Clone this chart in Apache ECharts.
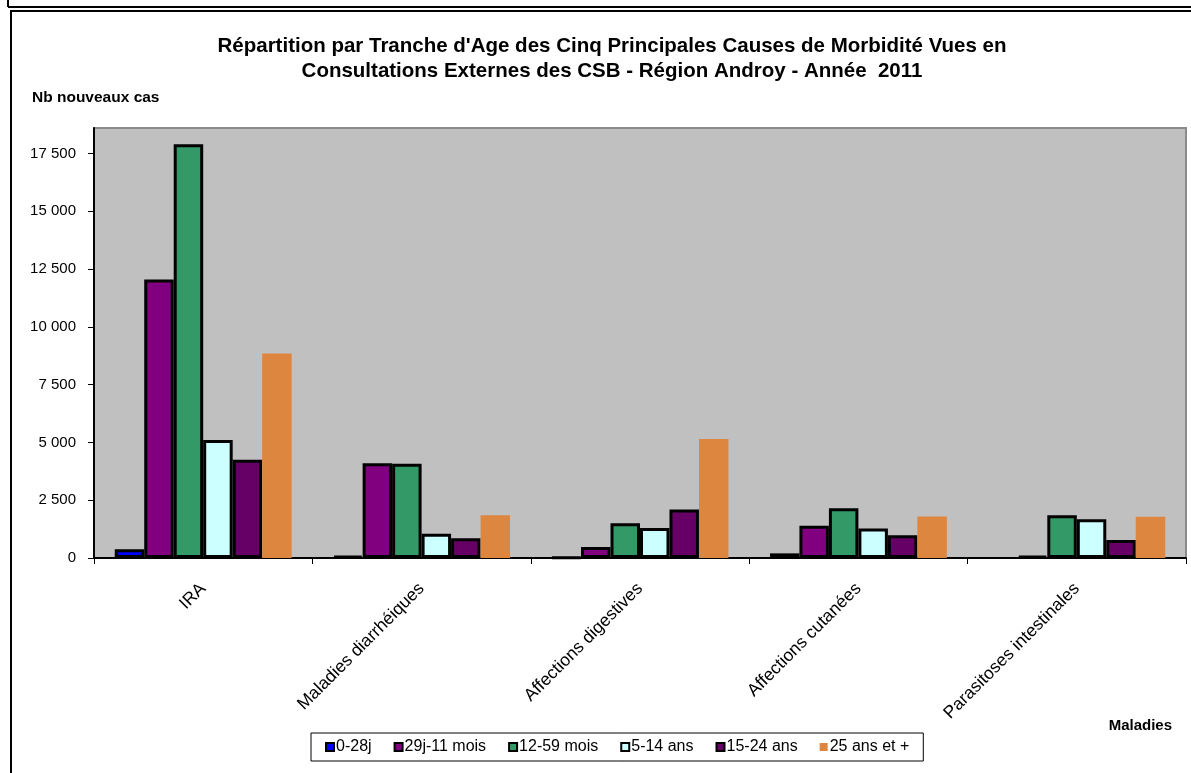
<!DOCTYPE html>
<html>
<head>
<meta charset="utf-8">
<script src="https://cdn.jsdelivr.net/npm/echarts@6/dist/echarts.min.js"></script>
<style>
 html, body { margin: 0; padding: 0; background: #fff; }
 #main { width: 1191px; height: 773px; }
</style>
</head>
<body>
<div id="main"></div>
<script>
 var maladies = ['IRA', 'Maladies diarrhéiques', 'Affections digestives', 'Affections cutanées', 'Parasitoses intestinales'];
 var tranches = ['0-28j', '29j-11 mois', '12-59 mois', '5-14 ans', '15-24 ans', '25 ans et +'];

 // nb nouveaux cas par tranche d'age (dans l'ordre des maladies)
 var cas0_28j = [380, 80, 30, 200, null];
 var cas29j_11m = [12050, 4100, 480, 1400, 80];
 var cas12_59m = [17900, 4080, 1500, 2150, 1850];
 var cas5_14 = [5100, 1050, 1300, 1280, 1680];
 var cas15_24 = [4250, 850, 2100, 980, 780];
 var cas25plus = [8850, 1850, 5150, 1800, 1780];

 var yTicks = [0, 2500, 5000, 7500, 10000, 12500, 15000, 17500];
 var couleurs = ['#0000ff', '#800080', '#339966', '#ccffff', '#660066', '#dd8640'];

 var myChart = echarts.init(document.getElementById('main'));
 var police = 'Arial, "Liberation Sans", sans-serif';

 function serie(nom, data, i) {
	 var bord = i === 5 ? 0 : 3;
	 return {
		 name: nom,
		 type: 'bar',
		 data: data,
		 barGap: '0%',
		 barCategoryGap: '19%',
		 itemStyle: { color: couleurs[i], borderColor: '#000', borderWidth: bord }
	 };
 }

 var options = {
	 textStyle: { fontFamily: police },
	 title: {
		 text: "Répartition par Tranche d'Age des Cinq Principales Causes de Morbidité Vues en\nConsultations Externes des CSB - Région Androy - Année  2011",
		 left: 607,
		 textAlign: 'center',
		 top: 29,
		 textStyle: { fontFamily: police, fontSize: 20.5, fontWeight: 'bold', color: '#000', lineHeight: 25 }
	 },
	 legend: {
		 data: tranches,
		 left: 311,
		 top: 733,
		 padding: [6, 14, 6, 14],
		 borderColor: '#000',
		 borderWidth: 1,
		 itemWidth: 8,
		 itemHeight: 8,
		 itemGap: 22,
		 icon: 'rect',
		 textStyle: { fontFamily: police, fontSize: 16, color: '#000', padding: [0, 0, 0, -3] }
	 },
	 grid: {
		 left: 94, right: 5, top: 128, bottom: 215,
		 show: true,
		 backgroundColor: '#c0c0c0',
		 borderColor: '#8a8a8a',
		 borderWidth: 2
	 },
	 xAxis: {
		 type: 'category',
		 data: maladies,
		 name: 'Maladies',
		 nameLocation: 'end',
		 nameGap: 0,
		 nameTextStyle: { fontFamily: police, fontSize: 15, fontWeight: 'bold', color: '#000', align: 'right', verticalAlign: 'top', padding: [160, 14, 0, 0] },
		 axisLine: { lineStyle: { color: '#000', width: 2 } },
		 axisTick: { show: true, length: 6, lineStyle: { color: '#000' } },
		 axisLabel: { interval: 0, rotate: 45, margin: 28, fontFamily: police, fontSize: 17.5, color: '#000' }
	 },
	 yAxis: {
		 type: 'value',
		 min: 0,
		 max: 18600,
		 interval: 2500,
		 name: 'Nb nouveaux cas',
		 nameLocation: 'end',
		 nameGap: 22,
		 nameTextStyle: { fontFamily: police, fontSize: 15.5, fontWeight: 'bold', color: '#000', align: 'left', padding: [0, 0, 0, -62] },
		 splitLine: { show: false },
		 axisLine: { show: true, lineStyle: { color: '#000', width: 2 } },
		 axisTick: { show: true, length: 6, lineStyle: { color: '#000' }, customValues: yTicks },
		 axisLabel: {
			 fontFamily: police, fontSize: 15, color: '#000', margin: 18,
			 customValues: yTicks,
			 formatter: function (v) { return String(v).replace(/\B(?=(\d{3})+(?!\d))/g, ' '); }
		 }
	 },
	 series: [
		 serie(tranches[0], cas0_28j, 0),
		 serie(tranches[1], cas29j_11m, 1),
		 serie(tranches[2], cas12_59m, 2),
		 serie(tranches[3], cas5_14, 3),
		 serie(tranches[4], cas15_24, 4),
		 serie(tranches[5], cas25plus, 5)
	 ],
	 graphic: [
		 { type: 'rect', shape: { x: 11, y: 11, width: 1200, height: 800 }, style: { fill: null, stroke: '#000', lineWidth: 2 }, silent: true },
		 { type: 'line', shape: { x1: 8, y1: 7, x2: 1191, y2: 7 }, style: { stroke: '#000', lineWidth: 2 }, silent: true },
		 { type: 'line', shape: { x1: 8, y1: 0, x2: 8, y2: 7 }, style: { stroke: '#000', lineWidth: 2 }, silent: true }
	 ]
 };

 myChart.setOption(options);
</script>
</body>
</html>
